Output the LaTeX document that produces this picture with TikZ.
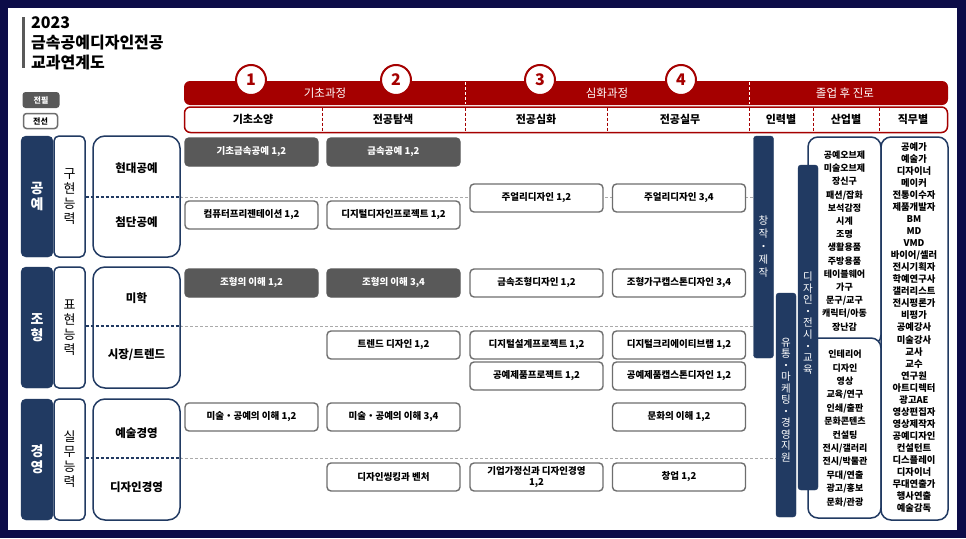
\documentclass[tikz,border=0pt]{standalone}
\usepackage{fontspec}
\setmainfont{Noto Sans CJK KR}
\definecolor{frame}{RGB}{12,12,72}
\definecolor{hred}{RGB}{165,0,0}
\definecolor{navy}{RGB}{33,58,98}
\definecolor{fillgray}{RGB}{89,89,89}
\definecolor{boxgray}{RGB}{110,110,110}
\definecolor{dashgray}{RGB}{170,170,170}
\begin{document}
\begin{tikzpicture}[x=1pt,y=-1pt,
  crs/.style={draw=boxgray, line width=1.4pt, fill=white, rounded corners=4pt,
    minimum width=133pt, minimum height=28pt, inner sep=1pt,
    font=\fontsize{9.5}{11}\selectfont\bfseries, align=center},
  crsfill/.style={crs, fill=fillgray, draw=fillgray, text=white},
  navybar/.style={fill=navy, draw=navy, rounded corners=5pt, minimum width=32pt, minimum height=121pt,
    inner sep=0pt, text=white, align=center, font=\fontsize{14}{16}\selectfont\bfseries},
  abil/.style={fill=white, draw=navy, line width=1.5pt, rounded corners=5pt, minimum width=31pt, minimum height=121pt,
    inner sep=0pt, align=center, font=\fontsize{13}{15}\selectfont},
  subbox/.style={fill=white, draw=navy, line width=1.5pt, rounded corners=12pt, minimum width=87pt, minimum height=121pt},
  sublbl/.style={font=\fontsize{11.5}{13}\selectfont\bfseries},
  hdr/.style={font=\fontsize{11.5}{13}\selectfont, text=white},
  col/.style={font=\fontsize{11}{13}\selectfont\bfseries},
  numc/.style={circle, fill=white, draw=hred, line width=2pt, minimum size=30pt, inner sep=0pt,
    text=hred, font=\fontsize{16}{16}\selectfont\bfseries},
  sepdash/.style={dashgray, line width=1pt, dash pattern=on 3pt off 2pt},
  navydash/.style={navy, line width=1.2pt, dash pattern=on 3pt off 2pt},
  rbar/.style={fill=navy, draw=navy, rounded corners=3pt, minimum width=20pt, inner sep=0pt},
  vtxt/.style={text=white, align=center, font=\fontsize{10.5}{13}\selectfont},
  listbox/.style={fill=white, draw=navy, line width=1.5pt, rounded corners=10pt},
  list/.style={align=center, font=\fontsize{9}{13.2}\selectfont\bfseries},
  ttl/.style={anchor=west, font=\fontsize{16}{16}\selectfont\bfseries, inner sep=0pt},
]
\useasboundingbox (0,0) rectangle (966,538);
\fill[frame] (0,0) rectangle (966,538);
\fill[white] (8,8) rectangle (957,530);

% title
\fill[fillgray] (22,17) rectangle (25,68);
\node[ttl] (t1) at (31,23) {2023};
\node[ttl] (t2) at (31,43) {금속공예디자인전공};
\node[ttl] (t3) at (31,62) {교과연계도};

% legend
\node[fill=fillgray, rounded corners=3pt, minimum width=37pt, minimum height=16pt, inner sep=0pt, text=white,
  font=\fontsize{8}{9}\selectfont\bfseries] (lg1) at (41,100) {전필};
\node[fill=white, draw=boxgray, line width=1.5pt, rounded corners=3pt, minimum width=34pt, minimum height=15pt, inner sep=0pt,
  font=\fontsize{8}{9}\selectfont\bfseries] (lg2) at (40.5,121) {전선};

% header
\fill[hred, rounded corners=6pt] (184,81) rectangle (948,105);
\draw[hred, line width=1.5pt, fill=white, rounded corners=6pt] (184.5,107) rectangle (947.5,132.5);
\foreach \x in {322,465,607,749,813,879} \draw[hred, line width=1pt, dash pattern=on 3pt off 2pt] (\x,107.5) -- (\x,132);
\foreach \x in {465,749} \draw[white, line width=1pt, dash pattern=on 3pt off 2pt] (\x,82) -- (\x,104);
\node[hdr] (h1) at (325,93) {기초과정};
\node[hdr] (h2) at (607,93) {심화과정};
\node[hdr] (h3) at (845,93) {졸업 후 진로};
\node[col] (c1) at (253,119.5) {기초소양};
\node[col] (c2) at (393,119.5) {전공탐색};
\node[col] (c3) at (536,119.5) {전공심화};
\node[col] (c4) at (680,119.5) {전공실무};
\node[col] (c5) at (781,119.5) {인력별};
\node[col] (c6) at (846,119.5) {산업별};
\node[col] (c7) at (913,119.5) {직무별};
\node[numc] (n1) at (251,80) {1};
\node[numc] (n2) at (396,80) {2};
\node[numc] (n3) at (540,80) {3};
\node[numc] (n4) at (681,80) {4};

% separator lines
\draw[sepdash] (180,197) -- (754,197);
\draw[sepdash] (180,326) -- (754,326);
\draw[sepdash] (180,458) -- (777,458);

% left blocks
\node[navybar] (r1) at (37,196.5) {공\\예};
\node[abil] (a1) at (69.5,196.5) {구\\현\\능\\력};
\node[subbox] (s1) at (136.5,196.5) {};
\node[sublbl] (s1a) at (136.5,168) {현대공예};
\node[sublbl] (s1b) at (136.5,222) {첨단공예};
\node[navybar] (r2) at (37,327.5) {조\\형};
\node[abil] (a2) at (69.5,327.5) {표\\현\\능\\력};
\node[subbox] (s2) at (136.5,327.5) {};
\node[sublbl] (s2a) at (136.5,298) {미학};
\node[sublbl] (s2b) at (136.5,355) {시장/트렌드};
\node[navybar] (r3) at (37,459.5) {경\\영};
\node[abil] (a3) at (69.5,459.5) {실\\무\\능\\력};
\node[subbox] (s3) at (136.5,459.5) {};
\node[sublbl] (s3a) at (136.5,433) {예술경영};
\node[sublbl] (s3b) at (136.5,487) {디자인경영};
\draw[navydash] (a1.east |- 0,197) -- (s1.east |- 0,197);
\draw[navydash] (a2.east |- 0,326) -- (s2.east |- 0,326);
\draw[navydash] (a3.east |- 0,458) -- (s3.east |- 0,458);

% courses
\node[crsfill] (k1) at (251.5,152) {기초금속공예 1,2};
\node[crsfill] (k2) at (393.5,152) {금속공예 1,2};
\node[crs] (k3) at (251.5,215) {컴퓨터프리젠테이션 1,2};
\node[crs] (k4) at (393.5,215) {디지털디자인프로젝트 1,2};
\node[crs] (k5) at (536.5,198) {주얼리디자인 1,2};
\node[crs] (k6) at (679,198) {주얼리디자인 3,4};
\node[crsfill] (k7) at (251.5,283) {조형의 이해 1,2};
\node[crsfill] (k8) at (393.5,283) {조형의 이해 3,4};
\node[crs] (k9) at (536.5,283) {금속조형디자인 1,2};
\node[crs] (k10) at (679,283) {조형가구캡스톤디자인 3,4};
\node[crs] (k11) at (393.5,345) {트렌드 디자인 1,2};
\node[crs] (k12) at (536.5,345) {디지털설계프로젝트 1,2};
\node[crs] (k13) at (679,345) {디지털크리에이티브랩 1,2};
\node[crs] (k14) at (536.5,376) {공예제품프로젝트 1,2};
\node[crs] (k15) at (679,376) {공예제품캡스톤디자인 1,2};
\node[crs] (k16) at (251.5,417) {미술・공예의 이해 1,2};
\node[crs] (k17) at (393.5,417) {미술・공예의 이해 3,4};
\node[crs] (k18) at (679,417) {문화의 이해 1,2};
\node[crs] (k19) at (393.5,477) {디자인씽킹과 벤처};
\node[crs] (k20) at (536.5,477) {기업가정신과 디자인경영\\1,2};
\node[crs] (k21) at (679,477) {창업 1,2};

% right boxes
\draw[listbox] (808,137) rectangle (881,345);
\draw[listbox] (808,338) rectangle (881,518);
\draw[listbox] (881,137) rectangle (948,520);
\node[list] (ind1) at (844.5,241) {공예오브제\\미술오브제\\장신구\\패션/잡화\\보석감정\\시계\\조명\\생활용품\\주방용품\\테이블웨어\\가구\\문구/교구\\캐릭터/아동\\장난감};
\node[list, font=\fontsize{9}{13.4}\selectfont\bfseries] (ind2) at (845,428.5) {인테리어\\디자인\\영상\\교육/연구\\인쇄/출판\\문화콘텐츠\\컨설팅\\전시/갤러리\\전시/박물관\\무대/연출\\광고/홍보\\문화/관광};
\node[list, font=\fontsize{9.3}{12.03}\selectfont\bfseries] (job) at (914,327.5) {공예가\\예술가\\디자이너\\메이커\\전통이수자\\제품개발자\\BM\\MD\\VMD\\바이어/셀러\\전시기획자\\학예연구사\\갤러리스트\\전시평론가\\비평가\\공예강사\\미술강사\\교사\\교수\\연구원\\아트디렉터\\광고AE\\영상편집자\\영상제작자\\공예디자인\\컨설턴트\\디스플레이\\디자이너\\무대연출가\\행사연출\\예술감독};

% right bars
\node[rbar, minimum height=222pt] (b1) at (763.5,247) {};
\node[rbar, minimum height=224pt] (b2) at (786,405) {};
\node[rbar, minimum height=325pt] (b3) at (808,327.5) {};
\node[vtxt] (b1t) at (b1.center) {창\\작\\・\\제\\작};
\node[vtxt, font=\fontsize{10.5}{11.5}\selectfont] (b2t) at (786,400) {유\\통\\・\\마\\케\\팅\\・\\경\\영\\지\\원};
\node[vtxt, font=\fontsize{10.5}{11.6}\selectfont] (b3t) at (808,323) {디\\자\\인\\・\\전\\시\\・\\교\\육};
\end{tikzpicture}
\end{document}
